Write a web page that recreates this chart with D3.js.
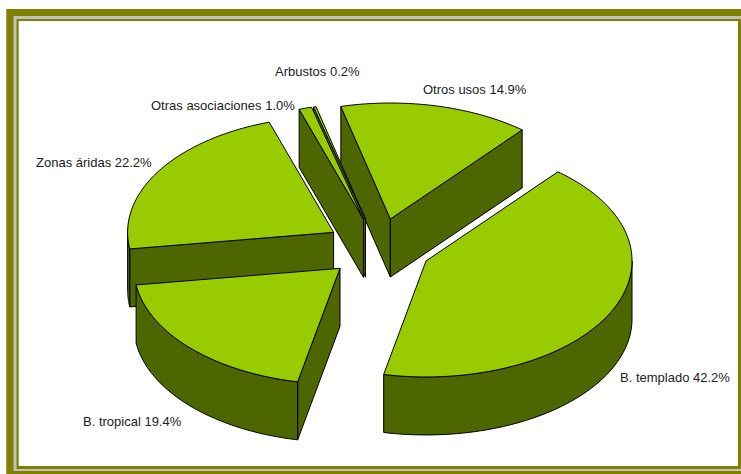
<!DOCTYPE html>
<html><head><meta charset="utf-8">
<script src="https://cdn.jsdelivr.net/npm/d3@7/dist/d3.min.js"></script>
<style>html,body{margin:0;padding:0;background:#fff;overflow:hidden}svg{display:block}text{font-family:"Liberation Sans",Arial,sans-serif;font-size:13px;fill:#222}</style>
</head><body><div id="c"></div>
<script>
const categories = ["Otros usos","B. templado","B. tropical","Zonas áridas","Otras asociaciones","Arbustos"];
const values = [14.9,42.2,19.4,22.2,1.0,0.2];
const tickLabels = ["Otros usos 14.9%","B. templado 42.2%","B. tropical 19.4%","Zonas áridas 22.2%","Otras asociaciones 1.0%","Arbustos 0.2%"];

const W=741,H=474;
const svg=d3.select("#c").append("svg").attr("width",W).attr("height",H);
// frame
const frame=[["#808000",6,9,760,480],["#c0c0c0",13.5,16,730.5,455],["#808000",16.5,19,724.5,450],["#ffffff",19,21,719,445]];
svg.selectAll("rect.f").data(frame).join("rect").attr("class","f").attr("x",d=>d[1]).attr("y",d=>d[2]).attr("width",d=>d[3]).attr("height",d=>d[4]).attr("fill",d=>d[0]);
svg.append("rect").attr("x",6).attr("y",9).attr("width",1).attr("height",470).attr("fill","#a6a64d");
svg.append("rect").attr("x",18).attr("y",21).attr("width",1).attr("height",445).attr("fill","#a6a64d");

const rad=Math.PI/180, startAngle=-13.9*rad;
const cx=378.5,cy=248,rx=206,ry=116,depth=58,explode=0.2563;
const pie=d3.pie().sort(null).startAngle(startAngle).endAngle(startAngle+2*Math.PI);
const arcs=pie(values);
const pt=(a,c,r=1,dz=0)=>[c[0]+rx*r*Math.sin(a),c[1]-ry*r*Math.cos(a)+dz];
const line=d3.line();
const topColor="#99cc00",sideColor="#4d6600";
const order=[0,5,4,3,1,2];
const g=svg.append("g").attr("stroke","#000").attr("stroke-width",1).attr("stroke-linejoin","round");
order.forEach(i=>{
  const d=arcs[i],a0=d.startAngle,a1=d.endAngle,mid=(a0+a1)/2;
  const c=pt(mid,[cx,cy],explode);
  const wall=a=>{g.append("path").attr("fill",sideColor).attr("d",line([c,pt(a,c),pt(a,c,1,depth),[c[0],c[1]+depth]])+"Z");};
  if(Math.sin(a0)<0) wall(a0);
  if(Math.sin(a1)>0) wall(a1);
  const lo=Math.max(a0,90*rad),hi=Math.min(a1,270*rad);
  if(hi>lo){
    const as=d3.range(0,61).map(k=>lo+(hi-lo)*k/60);
    g.append("path").attr("fill",sideColor).attr("d",line(as.map(a=>pt(a,c)).concat(as.slice().reverse().map(a=>pt(a,c,1,depth))))+"Z");
  }
  const n=Math.max(2,Math.ceil((a1-a0)/rad));
  const as=d3.range(0,n+1).map(k=>a0+(a1-a0)*k/n);
  g.append("path").attr("fill",topColor).attr("d",line([c].concat(as.map(a=>pt(a,c))))+"Z");
});
const labelPos=[[423,94],[620,382],[83,426],[36,167],[151,110],[275,76]];
svg.selectAll("text.l").data(tickLabels).join("text").attr("class","l").attr("x",(d,i)=>labelPos[i][0]).attr("y",(d,i)=>labelPos[i][1]).text(d=>d);
</script></body></html>
